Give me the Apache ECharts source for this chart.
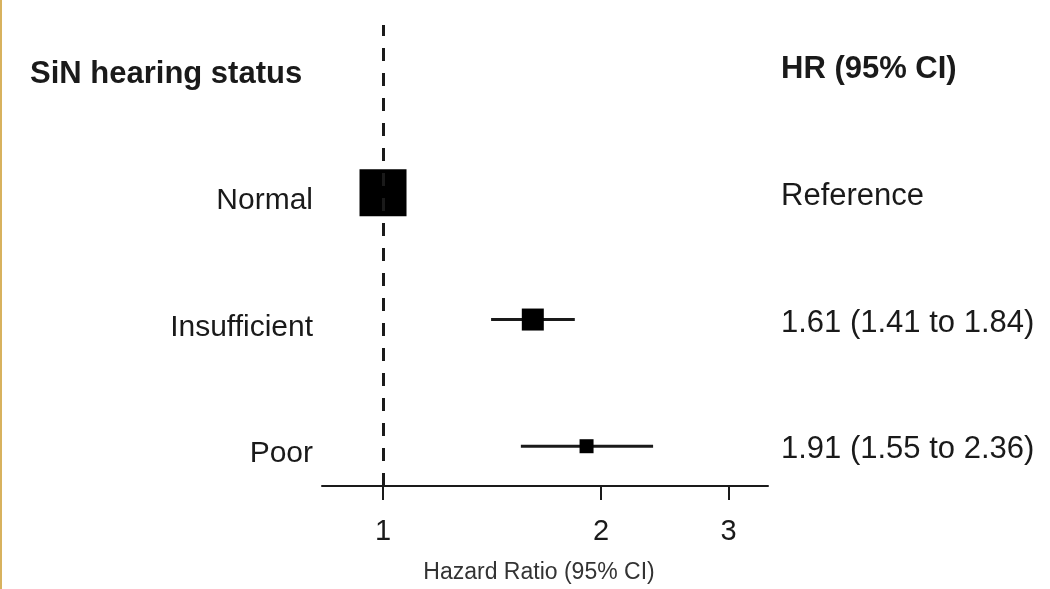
<!DOCTYPE html>
<html>
<head>
<meta charset="utf-8">
<script src="https://cdn.jsdelivr.net/npm/echarts@6/dist/echarts.min.js"></script>
<style>
html,body{margin:0;padding:0;background:#fff;}
#chart{width:1050px;height:589px;}
</style>
</head>
<body>
<div id="chart"></div>
<script>
// ---- data ----
const groups = ['Normal', 'Insufficient', 'Poor'];
const hr = [1, 1.61, 1.91];
const ciLower = [null, 1.41, 1.55];
const ciUpper = [null, 1.84, 2.36];
const xTicks = [1, 2, 3];
const referenceValue = 1;
const leftHeader = 'SiN hearing status';
const rightHeader = 'HR (95% CI)';
const axisTitle = 'Hazard Ratio (95% CI)';

// ---- styles ----
const squareSizes = [47, 22, 14];
const FONT = '"Liberation Sans", Arial, sans-serif';
const INK = '#1a1a1a';

const n = groups.length;
const rowY = i => n - 1 - i;            // row position (top row highest)
const headerY = n;
const hrText = i => ciLower[i] == null ? 'Reference'
  : hr[i].toFixed(2) + ' (' + ciLower[i].toFixed(2) + ' to ' + ciUpper[i].toFixed(2) + ')';

const yMin = -0.314, yMax = 3.325;

const chart = echarts.init(document.getElementById('chart'), null, {renderer: 'canvas'});
chart.setOption({
  backgroundColor: '#fff',
  animation: false,
  textStyle: {fontFamily: FONT},
  grid: {left: 322, right: 282, top: 25, bottom: 100, containLabel: false},
  xAxis: {
    type: 'value',
    min: -0.194, max: 1.224,
    name: axisTitle,
    nameLocation: 'middle',
    nameGap: 75,
    nameTextStyle: {fontFamily: FONT, fontSize: 23, color: '#333', padding: [0, 12, 0, 0]},
    axisLine: {show: true, onZero: false, lineStyle: {color: INK, width: 2}},
    axisTick: {show: true, length: 14, lineStyle: {color: INK, width: 2},
      customValues: xTicks.map(v => Math.log(v))},
    axisLabel: {fontFamily: FONT, fontSize: 29, color: INK, margin: 31,
      customValues: xTicks.map(v => Math.log(v)),
      formatter: v => String(Math.round(Math.exp(v)))},
    splitLine: {show: false}
  },
  yAxis: [{
    type: 'value', min: yMin, max: yMax, position: 'left',
    axisLine: {show: false}, axisTick: {show: false}, splitLine: {show: false},
    axisLabel: {fontFamily: FONT, fontSize: 30, color: INK, margin: 9,
      customValues: groups.map((g, i) => rowY(i)),
      formatter: v => '{a|' + groups[n - 1 - Math.round(v)] + '}',
      rich: {a: {fontFamily: FONT, fontSize: 30, color: INK, padding: [16, 0, 0, 0]}}}
  }, {
    type: 'value', min: yMin, max: yMax, position: 'right',
    axisLine: {show: false}, axisTick: {show: false}, splitLine: {show: false},
    axisLabel: {fontFamily: FONT, fontSize: 31, color: INK, margin: 13,
      padding: [7, 0, 0, 0],
      customValues: groups.map((g, i) => rowY(i)).concat([headerY]),
      formatter: v => {
        const r = Math.round(v);
        if (r === headerY) return '{b|' + rightHeader + '}';
        return hrText(n - 1 - r);
      },
      rich: {b: {fontFamily: FONT, fontSize: 31, fontWeight: 'bold', color: INK}}}
  }],
  graphic: [
    {type: 'rect', left: 0, top: 0, shape: {x: 0, y: 0, width: 2, height: 589},
     style: {fill: '#d8b25e'}, silent: true},
    {type: 'text', left: 30, top: 59,
     style: {text: leftHeader, font: 'bold 31px ' + FONT, fill: INK}}
  ],
  series: [{
    type: 'custom',
    z: 2,
    data: groups.map((g, i) => ciLower[i] == null ? null
      : [Math.log(ciLower[i]), Math.log(ciUpper[i]), rowY(i)]).filter(d => d),
    renderItem: (params, api) => {
      const a = api.coord([api.value(0), api.value(2)]);
      const b = api.coord([api.value(1), api.value(2)]);
      return {type: 'line', shape: {x1: a[0], y1: a[1], x2: b[0], y2: b[1]},
        style: {stroke: INK, lineWidth: 3}};
    },
    silent: true,
    markLine: {
      silent: true, symbol: 'none', label: {show: false},
      lineStyle: {color: INK, width: 3, type: [13, 12], opacity: 1},
      data: [{xAxis: Math.log(referenceValue)}]
    }
  }, {
    type: 'scatter',
    z: 3,
    symbol: 'rect',
    data: groups.map((g, i) => ({value: [Math.log(hr[i]), rowY(i)], symbolSize: squareSizes[i]})),
    itemStyle: {color: '#000', opacity: 1},
    silent: true
  }]
});
</script>
</body>
</html>
